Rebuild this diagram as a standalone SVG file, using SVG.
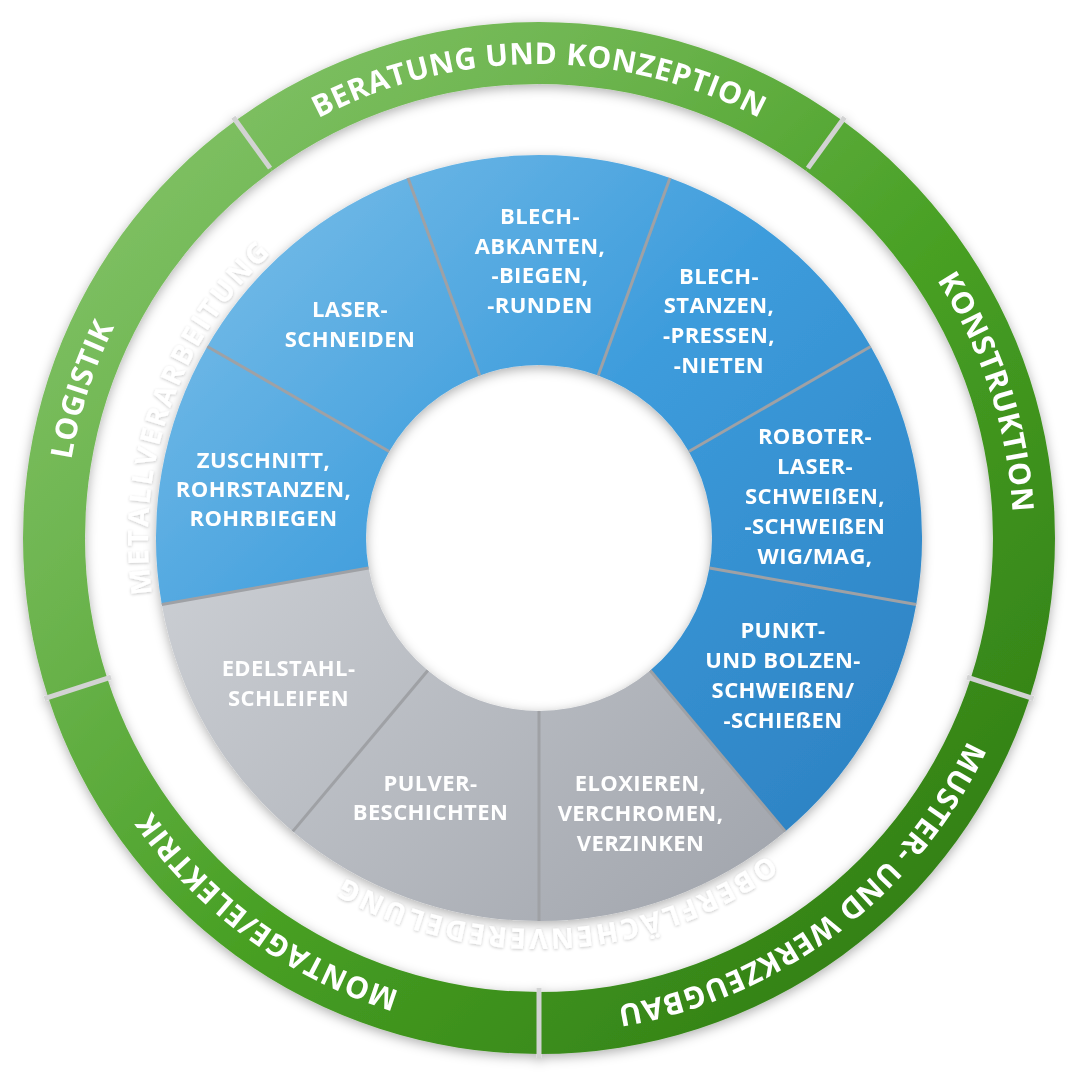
<svg xmlns="http://www.w3.org/2000/svg" width="1080" height="1080" viewBox="0 0 1080 1080">
<defs>
<style>
.lbl{font-family:"Open Sans","Liberation Sans",sans-serif;font-weight:700;font-size:22px;fill:#ffffff;text-anchor:middle;letter-spacing:0.4px}
.ring{font-family:"Open Sans","Liberation Sans",sans-serif;font-weight:700;font-size:30px;fill:#ffffff;text-anchor:middle;letter-spacing:0.6px}
.ghost{font-family:"Open Sans","Liberation Sans",sans-serif;font-weight:700;font-size:28px;fill:#ffffff;text-anchor:middle;letter-spacing:3px}
.gseg{fill:url(#gGreen)}
.bseg{fill:url(#gBlue)}
.sseg{fill:url(#gGrey)}
.div{stroke:#9fa1a5;stroke-width:3;stroke-linecap:butt}
.gap{stroke:#d2d3d3;stroke-width:5}
</style>
<linearGradient id="gGreen" gradientUnits="userSpaceOnUse" x1="30" y1="30" x2="1050" y2="1050">
<stop offset="0" stop-color="#8ac870"/>
<stop offset="0.3" stop-color="#6cb44e"/>
<stop offset="0.55" stop-color="#48a024"/>
<stop offset="1" stop-color="#2a7410"/>
</linearGradient>
<linearGradient id="gBlue" gradientUnits="userSpaceOnUse" x1="160" y1="160" x2="920" y2="920">
<stop offset="0" stop-color="#80c2ea"/>
<stop offset="0.45" stop-color="#3d9cdc"/>
<stop offset="1" stop-color="#297cbd"/>
</linearGradient>
<linearGradient id="gGrey" gradientUnits="userSpaceOnUse" x1="160" y1="160" x2="920" y2="920">
<stop offset="0" stop-color="#dde0e4"/>
<stop offset="1" stop-color="#9a9ea6"/>
</linearGradient>
<filter id="shadow" x="-10%" y="-10%" width="120%" height="120%">
<feDropShadow dx="0" dy="3" stdDeviation="6" flood-color="#000000" flood-opacity="0.32"/>
</filter>
<filter id="ghostShadow" x="-10%" y="-10%" width="120%" height="120%">
<feDropShadow dx="0" dy="1" stdDeviation="1.5" flood-color="#000000" flood-opacity="0.22"/>
</filter>
<path id="ringPath" d="M 539,1012 A 474 474 0 1 1 539,64 A 474 474 0 1 1 539,1012"/>
<path id="ghostPath" d="M 539,147 A 391 391 0 1 1 539,929 A 391 391 0 1 1 539,147"/>
</defs>
<rect width="1080" height="1080" fill="#ffffff"/>

<g id="outer-ring" filter="url(#shadow)">
<g id="node-beratung">
<path class="gseg" d="M 235.70,120.55 A 516 516 0 0 1 842.30,120.55 L 805.85,170.71 A 454 454 0 0 0 272.15,170.71 Z"/>
<text class="ring"><textPath href="#ringPath" startOffset="50%">BERATUNG UND KONZEPTION</textPath></text>
</g>
<g id="node-konstruktion">
<path class="gseg" d="M 842.30,120.55 A 516 516 0 0 1 1029.75,697.45 L 970.78,678.29 A 454 454 0 0 0 805.85,170.71 Z"/>
<text class="ring"><textPath href="#ringPath" startOffset="70%">KONSTRUKTION</textPath></text>
</g>
<g id="node-muster">
<path class="gseg" d="M 1029.75,697.45 A 516 516 0 0 1 539,1054 L 539,992 A 454 454 0 0 0 970.78,678.29 Z"/>
<text class="ring"><textPath href="#ringPath" startOffset="89.7%">MUSTER- UND WERKZEUGBAU</textPath></text>
</g>
<g id="node-montage">
<path class="gseg" d="M 539,1054 A 516 516 0 0 1 48.25,697.45 L 107.22,678.29 A 454 454 0 0 0 539,992 Z"/>
<text class="ring"><textPath href="#ringPath" startOffset="10%">MONTAGE/ELEKTRIK</textPath></text>
</g>
<g id="node-logistik">
<path class="gseg" d="M 48.25,697.45 A 516 516 0 0 1 235.70,120.55 L 272.15,170.71 A 454 454 0 0 0 107.22,678.29 Z"/>
<text class="ring"><textPath href="#ringPath" startOffset="30%">LOGISTIK</textPath></text>
</g>
<g id="ring-gaps">
<line class="gap" x1="807.91" y1="168.11" x2="844.65" y2="117.32"/>
<line class="gap" x1="966.98" y1="677.05" x2="1033.55" y2="698.68"/>
<line class="gap" x1="539" y1="988" x2="539" y2="1058"/>
<line class="gap" x1="111.02" y1="677.05" x2="44.45" y2="698.68"/>
<line class="gap" x1="270.09" y1="168.11" x2="233.35" y2="117.32"/>
</g>
</g>

<g id="disc" filter="url(#shadow)">
<g id="node-blech-abkanten">
<path class="bseg" d="M 408.0,178.1 A 383 383 0 0 1 670.0,178.1 L 598.2,375.4 A 173 173 0 0 0 479.8,375.4 Z"/>
<text class="lbl" x="540" y="224"><tspan x="540">BLECH-</tspan><tspan x="540" dy="29.7">ABKANTEN,</tspan><tspan x="540" dy="29.7">-BIEGEN,</tspan><tspan x="540" dy="29.7">-RUNDEN</tspan></text>
</g>
<g id="node-blech-stanzen">
<path class="bseg" d="M 670.0,178.1 A 383 383 0 0 1 870.7,346.5 L 688.8,451.5 A 173 173 0 0 0 598.2,375.4 Z"/>
<text class="lbl" x="719" y="283.5"><tspan x="719">BLECH-</tspan><tspan x="719" dy="29.8">STANZEN,</tspan><tspan x="719" dy="29.8">-PRESSEN,</tspan><tspan x="719" dy="29.8">-NIETEN</tspan></text>
</g>
<g id="node-roboter">
<path class="bseg" d="M 870.7,346.5 A 383 383 0 0 1 916.2,604.5 L 709.4,568.0 A 173 173 0 0 0 688.8,451.5 Z"/>
<text class="lbl" x="815" y="443.5"><tspan x="815">ROBOTER-</tspan><tspan x="815" dy="30">LASER-</tspan><tspan x="815" dy="30">SCHWEIßEN,</tspan><tspan x="815" dy="30">-SCHWEIßEN</tspan><tspan x="815" dy="30">WIG/MAG,</tspan></text>
</g>
<g id="node-punkt">
<path class="bseg" d="M 916.2,604.5 A 383 383 0 0 1 785.2,831.4 L 650.2,670.5 A 173 173 0 0 0 709.4,568.0 Z"/>
<text class="lbl" x="783" y="637.5"><tspan x="783">PUNKT-</tspan><tspan x="783" dy="30">UND BOLZEN-</tspan><tspan x="783" dy="30">SCHWEIßEN/</tspan><tspan x="783" dy="30">-SCHIEßEN</tspan></text>
</g>
<g id="node-eloxieren">
<path class="sseg" d="M 785.2,831.4 A 383 383 0 0 1 539,921 L 539,711 A 173 173 0 0 0 650.2,670.5 Z"/>
<text class="lbl" x="640.5" y="791"><tspan x="640.5">ELOXIEREN,</tspan><tspan x="640.5" dy="30">VERCHROMEN,</tspan><tspan x="640.5" dy="30">VERZINKEN</tspan></text>
</g>
<g id="node-pulver">
<path class="sseg" d="M 539,921 A 383 383 0 0 1 292.8,831.4 L 427.8,670.5 A 173 173 0 0 0 539,711 Z"/>
<text class="lbl" x="430.5" y="791"><tspan x="430.5">PULVER-</tspan><tspan x="430.5" dy="29">BESCHICHTEN</tspan></text>
</g>
<g id="node-edelstahl">
<path class="sseg" d="M 292.8,831.4 A 383 383 0 0 1 161.8,604.5 L 368.6,568.0 A 173 173 0 0 0 427.8,670.5 Z"/>
<text class="lbl" x="288.5" y="676"><tspan x="288.5">EDELSTAHL-</tspan><tspan x="288.5" dy="30">SCHLEIFEN</tspan></text>
</g>
<g id="node-zuschnitt">
<path class="bseg" d="M 161.8,604.5 A 383 383 0 0 1 207.3,346.5 L 389.2,451.5 A 173 173 0 0 0 368.6,568.0 Z"/>
<text class="lbl" x="263.5" y="468"><tspan x="263.5">ZUSCHNITT,</tspan><tspan x="263.5" dy="29">ROHRSTANZEN,</tspan><tspan x="263.5" dy="29">ROHRBIEGEN</tspan></text>
</g>
<g id="node-laser">
<path class="bseg" d="M 207.3,346.5 A 383 383 0 0 1 408.0,178.1 L 479.8,375.4 A 173 173 0 0 0 389.2,451.5 Z"/>
<text class="lbl" x="350" y="317"><tspan x="350">LASER-</tspan><tspan x="350" dy="29.5">SCHNEIDEN</tspan></text>
</g>
<g id="connectors">
<line class="div" x1="598.2" y1="375.4" x2="670.0" y2="178.1"/>
<line class="div" x1="688.8" y1="451.5" x2="870.7" y2="346.5"/>
<line class="div" x1="709.4" y1="568.0" x2="916.2" y2="604.5"/>
<line class="div" x1="650.2" y1="670.5" x2="785.2" y2="831.4"/>
<line class="div" x1="539" y1="711" x2="539" y2="921"/>
<line class="div" x1="427.8" y1="670.5" x2="292.8" y2="831.4"/>
<line class="div" x1="368.6" y1="568.0" x2="161.8" y2="604.5"/>
<line class="div" x1="389.2" y1="451.5" x2="207.3" y2="346.5"/>
<line class="div" x1="479.8" y1="375.4" x2="408.0" y2="178.1"/>
</g>
</g>

<g id="ghost-labels" filter="url(#ghostShadow)">
<text class="ghost"><textPath href="#ghostPath" startOffset="80.4%">METALLVERARBEITUNG</textPath></text>
<text class="ghost"><textPath href="#ghostPath" startOffset="49.2%">OBERFLÄCHENVEREDELUNG</textPath></text>
</g>
</svg>
